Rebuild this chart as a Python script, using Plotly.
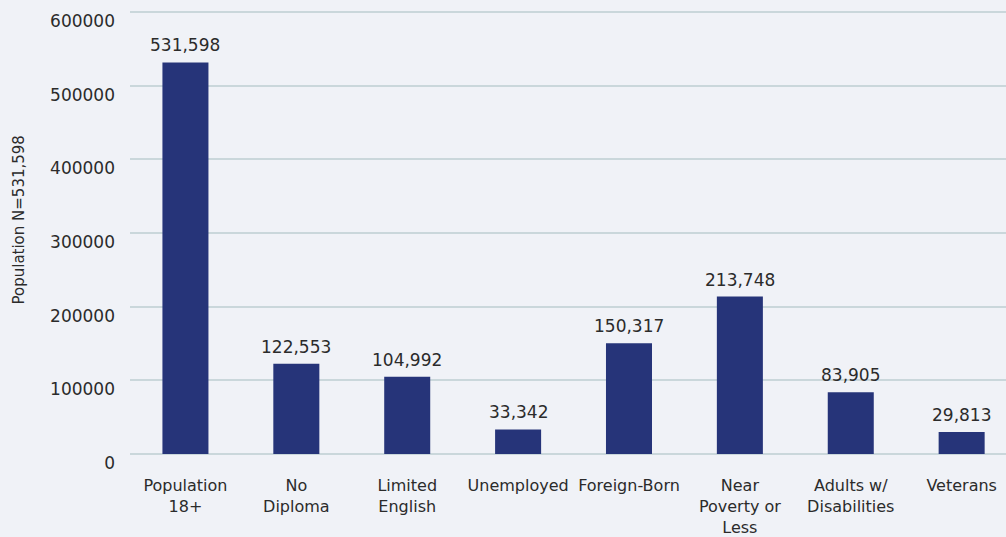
import plotly.graph_objects as go

categories = ["Population<br>18+", "No<br>Diploma", "Limited<br>English", "Unemployed",
              "Foreign-Born", "Near<br>Poverty or<br>Less", "Adults w/<br>Disabilities", "Veterans"]
values = [531598, 122553, 104992, 33342, 150317, 213748, 83905, 29813]
value_labels = [f"{v:,}" for v in values]
y_ticks = [0, 100000, 200000, 300000, 400000, 500000, 600000]
y_title = "Population N=531,598"

FONT = "DejaVu Sans"
TXT = "#2b2b2b"
BG = "#f0f2f7"
GRID = "#cad7db"

xs = list(range(len(categories)))

fig = go.Figure(go.Bar(
    x=xs, y=values,
    marker=dict(color="#263479", line=dict(width=0)),
    width=0.415,
    hoverinfo="skip",
))

for x, v, lab in zip(xs, values, value_labels):
    fig.add_annotation(x=x, y=v, text=lab, showarrow=False, yanchor="bottom",
                       yshift=5, font=dict(family=FONT, size=17, color=TXT))

fig.add_annotation(xref="paper", yref="paper", x=0, y=0.5, xshift=-112, yshift=12,
                   xanchor="center", yanchor="middle",
                   text=y_title, textangle=-90, showarrow=False,
                   font=dict(family=FONT, size=15, color=TXT))

fig.update_layout(
    width=1006, height=537,
    paper_bgcolor=BG, plot_bgcolor=BG,
    margin=dict(l=130, r=0, t=11, b=83),
    showlegend=False,
    font=dict(family=FONT, size=16, color=TXT),
    xaxis=dict(
        tickmode="array", tickvals=xs, ticktext=categories,
        range=[-0.5, 7.4], showgrid=False, zeroline=False, showline=False,
        tickfont=dict(family=FONT, size=16, color=TXT),
        ticks="", ticklabelstandoff=20,
    ),
    yaxis=dict(
        range=[0, 601500], tickvals=y_ticks, ticktext=[str(t) for t in y_ticks],
        showgrid=True, gridcolor=GRID, gridwidth=1.5,
        zeroline=True, zerolinecolor=GRID, zerolinewidth=2,
        showline=False, ticks="", ticklabelstandoff=14, ticklabelshift=9,
        tickfont=dict(family=FONT, size=17, color=TXT),
        automargin=False,
    ),
)

fig.write_html("out.html", config={"displayModeBar": False},
               post_script="document.body.style.margin='0';document.body.style.overflow='hidden';")
